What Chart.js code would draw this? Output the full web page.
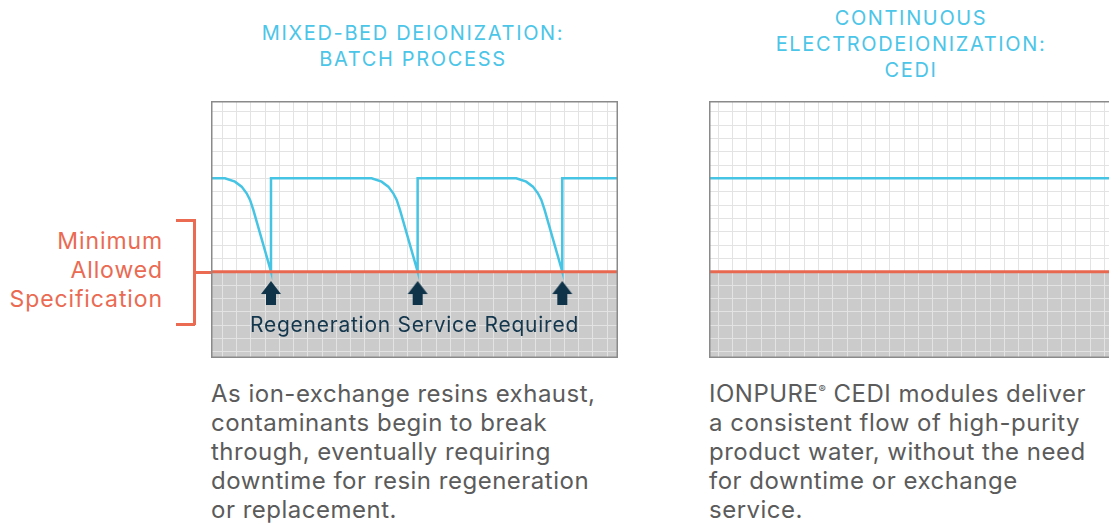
<!DOCTYPE html>
<html>
<head>
<meta charset="utf-8">
<script src="https://cdn.jsdelivr.net/npm/chart.js@4.4.0/dist/chart.umd.min.js"></script>
<style>
  html, body { margin: 0; padding: 0; background: #fff; }
  body { width: 1109px; height: 523px; overflow: hidden; position: relative; font-family: Inter, "Noto Sans", sans-serif; }
  .box { position: absolute; width: 407px; height: 257px; }
  .title { position: absolute; text-align: center; color: #4bc5e8; font-size: 20px; line-height: 26px; letter-spacing: 1.65px; white-space: nowrap; }
  .para { position: absolute; color: #5b5b5b; font-size: 24px; line-height: 29px; letter-spacing: 0.5px; white-space: nowrap; }
  .spec { position: absolute; right: 946px; top: 227px; text-align: right; color: #ea6a52; font-size: 23px; line-height: 29px; letter-spacing: 0.9px; }
  .brk { position: absolute; background: #ea6a52; }
  .regen { position: absolute; left: 211px; width: 407px; top: 312px; text-align: center; color: #14374d; font-size: 21px; line-height: 26px; letter-spacing: 0.75px; white-space: nowrap; }
</style>
</head>
<body>
<div class="title" style="left:213px;width:400px;top:20px;">MIXED-BED DEIONIZATION:<br>BATCH PROCESS</div>
<div class="title" style="left:711px;width:400px;top:5px;">CONTINUOUS<br>ELECTRODEIONIZATION:<br>CEDI</div>

<div class="spec">Minimum<br>Allowed<br>Specification</div>
<div class="brk" style="left:193px;top:219px;width:2.5px;height:106px;"></div>
<div class="brk" style="left:176px;top:219px;width:19px;height:2.5px;"></div>
<div class="brk" style="left:176px;top:323px;width:19px;height:2.5px;"></div>
<div class="brk" style="left:193px;top:271px;width:18px;height:2.5px;"></div>

<div class="box" style="left:211px;top:101px;"><canvas id="batch"></canvas></div>
<div class="box" style="left:709px;top:101px;"><canvas id="cedi"></canvas></div>
<div class="regen">Regeneration Service Required</div>

<div class="para" style="left:211px;top:379px;">As ion-exchange resins exhaust,<br>contaminants begin to break<br>through, eventually requiring<br>downtime for resin regeneration<br>or replacement.</div>
<div class="para" style="left:709px;top:379px;">IONPURE<sup style="font-size:11px;vertical-align:top;line-height:20px;">®</sup> CEDI modules deliver<br>a consistent flow of high-purity<br>product water, without the need<br>for downtime or exchange<br>service.</div>

<script>
// product water quality (grid units) for the batch process
var batchX = [-0.79, 0.19, 0.89, 1.36, 1.71, 1.95, 2.18, 3.42, 3.42,
              10.48, 11.18, 11.65, 12.00, 12.24, 12.47, 13.71, 13.71,
              20.63, 21.33, 21.80, 22.15, 22.39, 22.62, 23.86, 23.86, 27.77];
var batchY = [13, 13, 12.75, 12.38, 11.88, 11.38, 10.63, 6, 13,
              13, 12.75, 12.38, 11.88, 11.38, 10.63, 6, 13,
              13, 12.75, 12.38, 11.88, 11.38, 10.63, 6, 13, 13];
// continuous process
var cediX = [-0.65, 27.81];
var cediY = [13, 13];
// minimum allowed specification
var specLevel = 6;
// regeneration markers
var arrowX = [3.42, 13.71, 23.86];
var arrowY = [4.4, 4.4, 4.4];

var yMin = -0.47, yMax = 18.8;
var batchRange = [-0.79, 27.77];
var cediRange = [-0.65, 27.81];

function pts(xs, ys) {
  return xs.map(function (x, i) { return { x: x, y: ys[i] }; });
}

// up arrow used as a point style
var arrow = document.createElement("canvas");
arrow.width = 22; arrow.height = 24;
(function () {
  var c = arrow.getContext("2d");
  c.fillStyle = "#0f3349";
  c.beginPath();
  c.moveTo(11, 0);
  c.lineTo(21, 13);
  c.lineTo(16, 13);
  c.lineTo(16, 24);
  c.lineTo(6, 24);
  c.lineTo(6, 13);
  c.lineTo(1, 13);
  c.closePath();
  c.fill();
})();

var panel = {
  id: "panel",
  beforeDraw: function (chart) {
    var ctx = chart.ctx, a = chart.chartArea;
    var top = chart.scales.y.getPixelForValue(specLevel);
    ctx.save();
    ctx.fillStyle = "#cbcbcb";
    ctx.fillRect(a.left, top, a.right - a.left, a.bottom - top);
    ctx.restore();
  },
  afterDraw: function (chart) {
    var ctx = chart.ctx, a = chart.chartArea;
    ctx.save();
    ctx.strokeStyle = "#8a8a8a";
    ctx.lineWidth = 1.5;
    ctx.strokeRect(a.left + 0.75, a.top + 0.75, a.right - a.left - 1.5, a.bottom - a.top - 1.5);
    ctx.restore();
  }
};

function intTicks(axis) {
  var t = [];
  for (var v = Math.ceil(axis.min); v <= Math.floor(axis.max); v++) t.push({ value: v });
  axis.ticks = t;
}

function makeChart(id, range, lineX, lineY, withArrows) {
  var datasets = [
    {
      data: pts(range, [specLevel, specLevel]),
      borderColor: "#e8674f", borderWidth: 3, pointRadius: 0, order: 0
    },
    {
      data: pts(lineX, lineY),
      borderColor: "#45c4e4", borderWidth: 2.5, pointRadius: 0, tension: 0, order: 1
    }
  ];
  if (withArrows) {
    datasets.push({
      data: pts(arrowX, arrowY),
      showLine: false, pointStyle: arrow, pointRadius: 11, order: 2
    });
  }
  return new Chart(document.getElementById(id), {
    type: "line",
    data: { datasets: datasets },
    options: {
      responsive: true,
      maintainAspectRatio: false,
      animation: false,
      layout: { padding: 0, autoPadding: false },
      plugins: { legend: { display: false }, tooltip: { enabled: false } },
      scales: {
        x: {
          type: "linear", min: range[0], max: range[1],
          ticks: { display: false },
          grid: { color: "#e3e3e3", lineWidth: 1, drawTicks: false },
          border: { display: false },
          afterBuildTicks: intTicks
        },
        y: {
          type: "linear", min: yMin, max: yMax,
          ticks: { display: false },
          grid: { color: "#e3e3e3", lineWidth: 1, drawTicks: false },
          border: { display: false },
          afterBuildTicks: intTicks
        }
      }
    },
    plugins: [panel]
  });
}

makeChart("batch", batchRange, batchX, batchY, true);
makeChart("cedi", cediRange, cediX, cediY, false);
</script>
</body>
</html>
